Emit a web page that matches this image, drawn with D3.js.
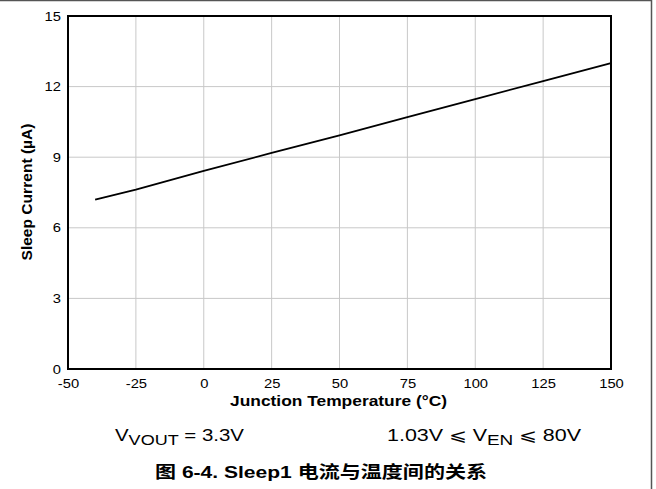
<!DOCTYPE html>
<html>
<head>
<meta charset="utf-8">
<script src="https://cdn.jsdelivr.net/npm/d3@7"></script>
<style>
  body { margin: 0; background: #fff; }
  text { font-family: "Liberation Sans", Arial, sans-serif; }
</style>
</head>
<body>
<div id="chart"></div>
<script>
// Data
const temps = [-40, -25, 0, 25, 50, 75, 100, 125, 150];
const sleepCurrent = [7.2, 7.62, 8.42, 9.18, 9.93, 10.7, 11.47, 12.23, 13.0];
const xTicks = [-50, -25, 0, 25, 50, 75, 100, 125, 150];
const yTicks = [0, 3, 6, 9, 12, 15];

const W = 656, H = 489;
const margin = { top: 16, right: 45, bottom: 120, left: 68 };
const width = W - margin.left - margin.right;
const height = H - margin.top - margin.bottom;

// the source picture is stretched sideways a bit, so text is widened to match
const stretch = 1.18;
function widen(sel, factor) {
    sel.each(function () {
        const len = this.getComputedTextLength();
        d3.select(this)
            .attr('textLength', len * factor)
            .attr('lengthAdjust', 'spacingAndGlyphs');
    });
}
function fit(sel, len) {
    sel.attr('textLength', len).attr('lengthAdjust', 'spacingAndGlyphs');
}

const svg = d3.select('#chart')
    .append('svg')
    .attr('width', W)
    .attr('height', H);

// Outer frame
svg.append('path')
    .attr('d', `M0,0.5H651.5V${H}`)
    .attr('fill', 'none')
    .attr('stroke', '#555')
    .attr('stroke-width', 1.5);

const g = svg.append('g')
    .attr('transform', `translate(${margin.left},${margin.top})`);

const x = d3.scaleLinear().domain([-50, 150]).range([0, width]);
const y = d3.scaleLinear().domain([0, 15]).range([height, 0]);

// Grid lines
g.append('g')
    .selectAll('line')
    .data(xTicks.slice(1, -1))
    .join('line')
    .attr('x1', d => x(d)).attr('x2', d => x(d))
    .attr('y1', 0).attr('y2', height)
    .attr('stroke', '#c8c8c8');

g.append('g')
    .selectAll('line')
    .data(yTicks.slice(1, -1))
    .join('line')
    .attr('x1', 0).attr('x2', width)
    .attr('y1', d => y(d)).attr('y2', d => y(d))
    .attr('stroke', '#c8c8c8');

// Axes (labels only)
const xAxis = g.append('g')
    .attr('transform', `translate(0,${height})`)
    .call(d3.axisBottom(x).tickValues(xTicks).tickFormat(d => String(d))
        .tickSize(0).tickPadding(10));
const yAxis = g.append('g')
    .call(d3.axisLeft(y).tickValues(yTicks).tickFormat(d => String(d))
        .tickSize(0).tickPadding(7));
[xAxis, yAxis].forEach(a => {
    a.select('.domain').remove();
    a.selectAll('text')
        .attr('font-family', '"Liberation Sans", Arial, sans-serif')
        .attr('font-size', 12.5)
        .attr('fill', '#000')
        .call(widen, stretch);
});

// Data line
const line = d3.line()
    .x((d, i) => x(temps[i]))
    .y(d => y(d));

g.append('path')
    .datum(sleepCurrent)
    .attr('fill', 'none')
    .attr('stroke', '#000')
    .attr('stroke-width', 1.8)
    .attr('d', line);

// Plot border
g.append('rect')
    .attr('width', width)
    .attr('height', height)
    .attr('fill', 'none')
    .attr('stroke', '#000')
    .attr('stroke-width', 2);

// Axis titles
svg.append('text')
    .attr('x', 338.5)
    .attr('y', 406)
    .attr('text-anchor', 'middle')
    .attr('font-size', 14.5)
    .attr('font-weight', 'bold')
    .text('Junction Temperature (°C)')
    .call(fit, 217);

svg.append('text')
    .attr('transform', 'translate(32,192) rotate(-90)')
    .attr('text-anchor', 'middle')
    .attr('font-size', 14.5)
    .attr('font-weight', 'bold')
    .text('Sleep Current (µA)')
    .call(fit, 137);

// Conditions
const c1 = svg.append('text')
    .attr('x', 115).attr('y', 441)
    .attr('font-size', 17);
c1.append('tspan').text('V');
c1.append('tspan').attr('dy', 4).attr('font-size', 15).text('VOUT');
c1.append('tspan').attr('dy', -4).text(' = 3.3V');
c1.call(fit, 129);

const c2 = svg.append('text')
    .attr('x', 387).attr('y', 441)
    .attr('font-size', 17);
c2.append('tspan').text('1.03V ⩽ V');
c2.append('tspan').attr('dy', 4).attr('font-size', 15).text('EN');
c2.append('tspan').attr('dy', -4).text(' ⩽ 80V');
c2.call(fit, 194);

// Caption
svg.append('text')
    .attr('x', 155).attr('y', 478)
    .attr('font-size', 17)
    .attr('font-weight', 'bold')
    .style('font-family', '"Liberation Sans", "Noto Sans CJK SC", sans-serif')
    .text('图 6-4. Sleep1 电流与温度间的关系')
    .call(fit, 332);
</script>
</body>
</html>
